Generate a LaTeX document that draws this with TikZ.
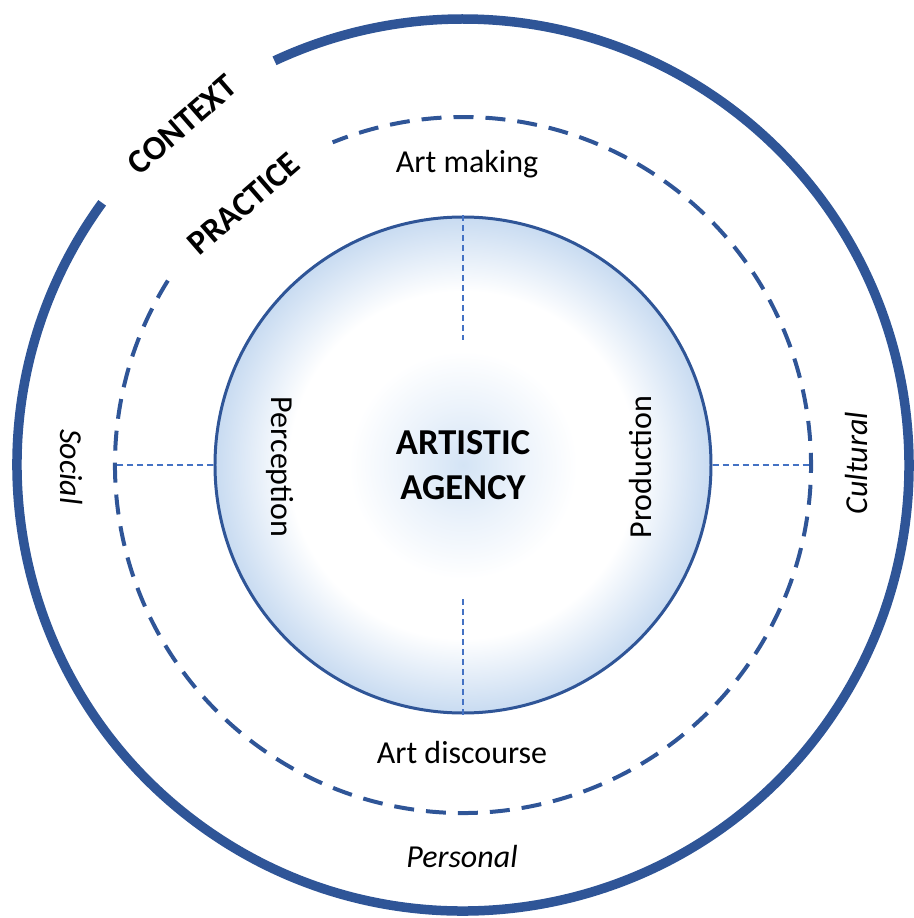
\documentclass[tikz,border=0pt]{standalone}
\usepackage{fontspec}
\setmainfont{Carlito}
\usepackage{tikz}
\definecolor{ringblue}{RGB}{47,85,151}
\definecolor{splitblue}{RGB}{68,114,196}
\definecolor{glowblue}{RGB}{200,219,241}
\definecolor{glowcore}{RGB}{212,228,245}
\definecolor{glowpale}{RGB}{236,243,251}
\newcommand{\rCtx}{446}
\newcommand{\rPrc}{348}
\newcommand{\rAgn}{248}
\pgfdeclareradialshading{agencyglow}{\pgfpointorigin}{%
  color(0bp)=(glowcore); color(6bp)=(glowpale); color(11.5bp)=(white);
  color(17.5bp)=(white); color(25bp)=(glowblue); color(50bp)=(glowblue)}

\begin{document}
\begin{tikzpicture}[x=1pt,y=1pt,
    ctxring/.style={draw=ringblue,line width=9.5pt},
    prcring/.style={draw=ringblue,line width=4pt,dash pattern=on 20pt off 12pt},
    splitline/.style={draw=splitblue,line width=2pt,dash pattern=on 6pt off 4pt},
    ringlabel/.style={font=\fontsize{32}{37}\selectfont},
    ringtitle/.style={font=\bfseries\fontsize{34}{39}\selectfont}]
        \useasboundingbox (-463,-453) rectangle (450,465);

        % Draw the context ring, open at the top left
        \draw[ctxring] (144:\rCtx) arc[start angle=144,end angle=475,radius=\rCtx];

        % Draw the practice ring (dashed)
        \draw[prcring] (148:\rPrc) arc[start angle=148,end angle=472,radius=\rPrc];

        % Shaded core
        \node[circle,draw=ringblue,line width=3pt,shade,shading=agencyglow,
              minimum size=2*\rAgn pt,inner sep=0pt,align=center,
              font=\bfseries\fontsize{36.5}{45}\selectfont] (agency) at (0,0) {ARTISTIC\\AGENCY};

        % Dividers from the core to the practice ring
        \coordinate (mkg) at (0,125);
        \coordinate (dsc) at (0,-130);
        \coordinate (soc) at (180:\rPrc);
        \coordinate (cul) at (0:\rPrc);
        \draw[splitline] (agency.north) -- (mkg);
        \draw[splitline] (agency.south) -- (dsc);
        \draw[splitline] (agency.west) -- (soc);
        \draw[splitline] (agency.east) -- (cul);

        % Labels
        \node[ringtitle,rotate=41] (context) at (129.5:441) {CONTEXT};
        \node[ringtitle,rotate=41] (practice) at (130:341) {PRACTICE};
        \node[ringlabel,anchor=base] (making) at (4,292) {Art making};
        \node[ringlabel,anchor=base] (discourse) at (-1,-298) {Art discourse};
        \node[ringlabel,anchor=base] (personal) at (-1,-402) {\itshape Personal};
        \node[ringlabel,rotate=-90] (social) at (-391,-2) {\itshape Social};
        \node[ringlabel,rotate=90] (cultural) at (394,2) {\itshape Cultural};
        \node[ringlabel,rotate=-90] (perception) at (-183,-2) {Perception};
        \node[ringlabel,rotate=90] (production) at (178,-2) {Production};
    \end{tikzpicture}
\end{document}
